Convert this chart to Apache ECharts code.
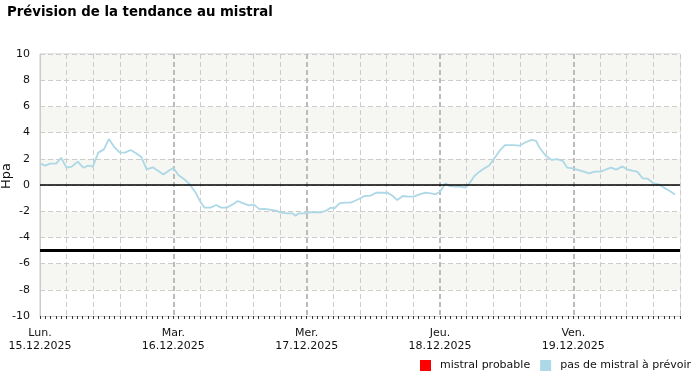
<!DOCTYPE html>
<html>
<head>
<meta charset="utf-8">
<script src="https://cdn.jsdelivr.net/npm/echarts@6/dist/echarts.min.js"></script>
<style>html,body{margin:0;padding:0;background:#fff}#c{width:700px;height:380px}</style>
</head>
<body>
<div id="c"></div>
<script>
const dayNames = ['Lun.', 'Mar.', 'Mer.', 'Jeu.', 'Ven.'];
const dayDates = ['15.12.2025', '16.12.2025', '17.12.2025', '18.12.2025', '19.12.2025'];
const hours = [0, 0.9, 1.8, 2.9, 3.8, 4.8, 5.7, 6.8, 7.8, 8.7, 9.5, 10.5, 11.5, 12.4, 13.3, 14.3, 15.3, 16.3, 17.3, 18.2, 19.2, 20.3, 21.3, 22.2, 23.1, 24.0,
  24.9, 25.9, 26.9, 27.9, 28.9, 29.6, 30.7, 31.7, 32.6, 33.7, 34.6, 35.6, 36.5, 37.6, 38.5, 39.5, 40.4, 41.6, 42.5, 43.4, 44.5, 45.4, 46.0, 46.6, 47.6,
  48.7, 49.6, 50.6, 51.5, 52.3, 53.0, 53.9, 54.8, 55.9, 56.6, 57.4, 58.4, 59.5, 60.5, 61.6, 62.6, 63.5, 64.3, 65.3, 66.2, 67.3, 68.3, 69.4, 70.3, 71.2,
  72.0, 73.0, 73.7, 74.8, 75.7, 76.6, 77.3, 78.2, 79.1, 80.0, 80.9, 81.8, 82.7, 83.7, 85.2, 86.3, 87.5, 88.5, 89.3, 90.0, 91.0, 92.1, 93.1, 94.1, 94.9,
  95.9, 96.8, 97.9, 98.8, 99.9, 101.0, 101.9, 102.8, 103.7, 104.8, 105.7, 106.6, 107.5, 108.5, 109.4, 110.4, 111.4, 112.3, 113.2, 114.3];
const values = [1.65, 1.48, 1.63, 1.63, 2.08, 1.32, 1.4, 1.78, 1.32, 1.48, 1.4, 2.47, 2.72, 3.51, 2.93, 2.49, 2.47, 2.67, 2.42, 2.16, 1.2, 1.35, 1.07, 0.81, 1.07, 1.32,
  0.76, 0.46, 0.08, -0.51, -1.3, -1.73, -1.73, -1.53, -1.73, -1.72, -1.5, -1.22, -1.38, -1.55, -1.5, -1.84, -1.83, -1.9, -1.96, -2.11, -2.16, -2.16, -2.34, -2.16, -2.16,
  -2.08, -2.08, -2.08, -1.96, -1.73, -1.78, -1.4, -1.35, -1.35, -1.22, -1.07, -0.84, -0.81, -0.59, -0.59, -0.59, -0.84, -1.15, -0.84, -0.89, -0.89, -0.71, -0.59, -0.64, -0.71,
  -0.51, 0.13, -0.08, -0.13, -0.13, -0.2, 0.13, 0.69, 1.02, 1.27, 1.5, 2.05, 2.6, 3.05, 3.05, 3.0, 3.28, 3.44, 3.36, 2.8, 2.25, 1.91, 1.97, 1.84, 1.32,
  1.27, 1.15, 1.02, 0.89, 1.02, 1.02, 1.2, 1.32, 1.17, 1.4, 1.2, 1.1, 1.02, 0.51, 0.48, 0.13, 0.05, -0.2, -0.42, -0.73];
const refLines = [0, -5];
const mistralThreshold = -5;
const xMaxHours = 115.2;
const seriesNames = ['mistral probable', 'pas de mistral à prévoir'];

const font = 'DejaVu Sans';
const chart = echarts.init(document.getElementById('c'), null, {renderer: 'canvas'});
chart.setOption({
  animation: false,
  backgroundColor: '#fff',
  textStyle: {fontFamily: font},
  title: {
    text: 'Prévision de la tendance au mistral',
    left: 2, top: 1,
    textStyle: {fontFamily: font, fontSize: 13.3, fontWeight: 'bold', color: '#000'}
  },
  grid: {left: 40, right: 20, top: 54, bottom: 64, show: true, borderColor: '#ccc', borderWidth: 1, outerBoundsMode: 'none', containLabel: false},
  legend: {
    data: seriesNames, left: 415, top: 355, width: 600, orient: 'horizontal',
    icon: 'rect', itemWidth: 11, itemHeight: 11, itemGap: 10,
    selectedMode: false,
    textStyle: {fontSize: 11, color: '#111', fontFamily: font, padding: [0, 0, 0, 4]}
  },
  xAxis: [{
    type: 'value', min: 0, max: xMaxHours, interval: 4.8,
    axisLine: {show: true, onZero: false, lineStyle: {color: '#ccc'}},
    axisTick: {show: true, length: 3, lineStyle: {color: '#333'}},
    minorTick: {show: true, splitNumber: 5, length: 3, lineStyle: {color: '#333'}},
    axisLabel: {show: false},
    splitLine: {show: true, lineStyle: {color: '#ccc', type: [5, 3]}}
  }, {
    type: 'value', min: 0, max: xMaxHours, interval: 24, position: 'bottom',
    axisLine: {show: false, onZero: false}, axisTick: {show: false},
    axisLabel: {
      show: true, margin: 11, fontSize: 11, color: '#111', lineHeight: 13, fontFamily: font,
      formatter: function (v) {
        const d = Math.round(v / 24);
        if (Math.abs(v / 24 - d) > 1e-6 || d >= dayNames.length) return '';
        return dayNames[d] + '\n' + dayDates[d];
      }
    },
    splitLine: {show: true, showMinLine: false, showMaxLine: false, lineStyle: {color: '#bbb', width: 2, type: [5, 3]}}
  }],
  yAxis: {
    type: 'value', min: -10, max: 10, interval: 2,
    name: 'Hpa', nameLocation: 'middle', nameGap: 27, nameMoveOverlap: false,
    nameTextStyle: {fontSize: 13, color: '#111', fontFamily: font, padding: [0, 0, 0, 18]},
    axisLine: {show: true, lineStyle: {color: '#ccc'}},
    axisTick: {show: false},
    axisLabel: {fontSize: 11, color: '#111', margin: 10, fontFamily: font},
    splitLine: {show: true, lineStyle: {color: '#ccc', type: [5, 3]}},
    splitArea: {show: true, areaStyle: {color: ['#ffffff', '#f6f6f2']}}
  },
  series: [{
    name: seriesNames[0], type: 'line', xAxisIndex: 0, color: '#ff0000',
    data: hours.map((h, i) => [h, values[i] < mistralThreshold ? values[i] : null]),
    showSymbol: false, symbol: 'none', lineStyle: {width: 1.8, color: '#ff0000'}
  }, {
    name: seriesNames[1], type: 'line', xAxisIndex: 0, color: '#add8e6',
    data: hours.map((h, i) => [h, values[i]]),
    showSymbol: false, symbol: 'none',
    lineStyle: {width: 1.8, color: '#add8e6'},
    markLine: {
      silent: true, symbol: 'none', label: {show: false},
      data: refLines.map(v => ({yAxis: v, lineStyle: {color: '#000', type: 'solid', width: v === 0 ? 1.5 : 3}}))
    }
  }]
});
</script>
</body>
</html>
